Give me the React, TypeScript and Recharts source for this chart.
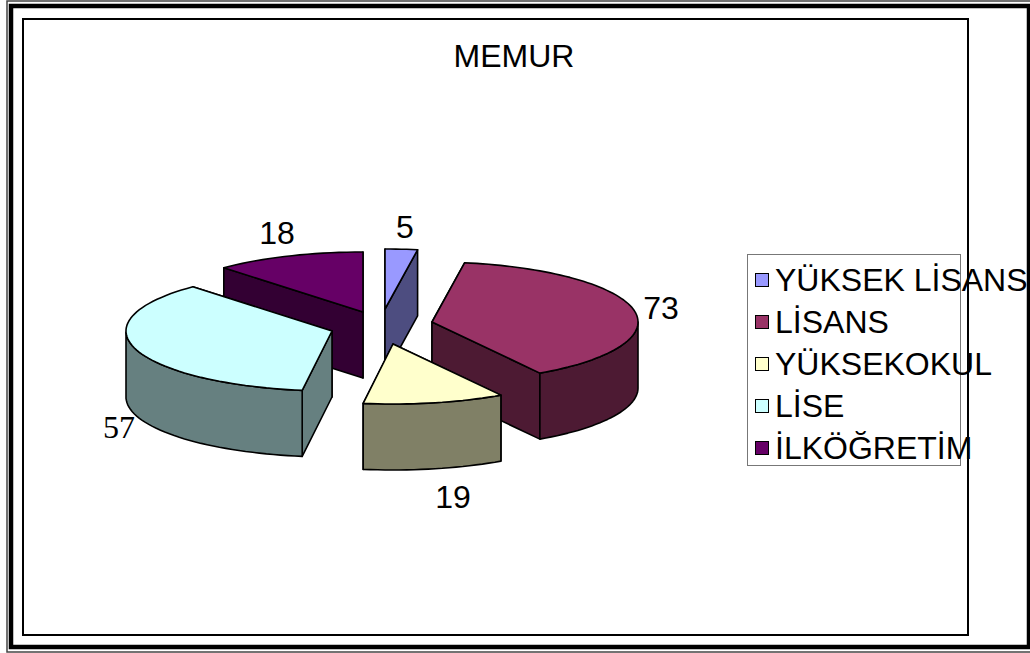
import { Legend, Pie, PieChart } from "recharts";

const categories = ["YÜKSEK LİSANS", "LİSANS", "YÜKSEKOKUL", "LİSE", "İLKÖĞRETİM"];
const values = [5, 73, 19, 57, 18];

const topColors = ["#9999FF", "#993366", "#FFFFCC", "#CCFFFF", "#660066"];
const sideColors = ["#4D4D80", "#4D1A33", "#808066", "#668080", "#330033"];

// explode offset of each slice from the pie centre, back-to-front paint order
const explode = [
  [0, -16],
  [47, -3],
  [8, 19],
  [-53, 6],
  [-22, -13],
];
const drawOrder = [4, 0, 3, 1, 2];

const labelPos = [
  [405, 238],
  [661, 319],
  [453, 508],
  [119, 438],
  [277, 244],
];
const labelFonts = ["Liberation Sans", "Liberation Sans", "Liberation Sans", "Liberation Serif", "Liberation Sans"];

const data = categories.map((name, i) => ({ name, value: values[i] }));

const SQUASH = 60 / 206;
const DEPTH = 66;
const TEXT_FONT = "'Liberation Sans', Arial, sans-serif";

// clockwise degrees from 12 o'clock -> tilted plane, front of the pie pulled round a bit
function project(theta: number, r: number, cx: number, cy: number) {
  const warped = theta - 15 * Math.abs(Math.sin((theta * Math.PI) / 360));
  const a = (warped * Math.PI) / 180;
  return [cx + r * Math.sin(a), cy - r * SQUASH * Math.cos(a)];
}

const toPath = (pts: number[][]) =>
  pts.map((p, i) => `${i ? "L" : "M"}${p[0].toFixed(1)},${p[1].toFixed(1)}`).join("") + "Z";

const drop = (pts: number[][]) => pts.map((p) => [p[0], p[1] + DEPTH]).reverse();

function sliceShape(layer: number) {
  return function SliceShape(props: any) {
    const idx = categories.indexOf(props.name);
    if (idx !== layer) return <g />;

    const cx = props.cx + explode[idx][0];
    const cy = props.cy + explode[idx][1];
    const r = props.outerRadius;
    const from = 90 - props.startAngle;
    const to = 90 - props.endAngle;

    const steps = Math.max(2, Math.ceil((to - from) / 2));
    const thetas: number[] = [];
    for (let s = 0; s <= steps; s++) thetas.push(from + ((to - from) * s) / steps);
    const rim = thetas.map((t) => project(t, r, cx, cy));
    const apex = [cx, cy];

    // outer wall only where the rim faces the viewer
    const frontRim = rim.filter((p) => p[1] >= cy);
    const walls: number[][][] = [
      [apex, rim[0], ...drop([apex, rim[0]])],
      [apex, rim[rim.length - 1], ...drop([apex, rim[rim.length - 1]])],
    ];
    if (frontRim.length > 1) walls.push([...frontRim, ...drop(frontRim)]);
    const meanY = (w: number[][]) => w.reduce((s, p) => s + p[1], 0) / w.length;
    walls.sort((a, b) => meanY(a) - meanY(b));

    return (
      <g stroke="#000" strokeWidth={1.6} strokeLinejoin="round">
        {walls.map((w, i) => (
          <path key={i} d={toPath(w)} fill={sideColors[idx]} />
        ))}
        <path d={toPath([apex, ...rim])} fill={topColors[idx]} />
        <text
          x={labelPos[idx][0]}
          y={labelPos[idx][1]}
          textAnchor="middle"
          stroke="none"
          fill="#000"
          fontSize={32}
          fontFamily={labelFonts[idx]}
        >
          {props.value}
        </text>
      </g>
    );
  };
}

function LegendBox() {
  return (
    <div
      style={{
        position: "absolute",
        left: 747,
        top: 254,
        width: 212,
        height: 210,
        border: "1.5px solid #777",
        boxSizing: "content-box",
        fontFamily: TEXT_FONT,
        fontSize: 32,
        color: "#000",
      }}
    >
      {categories.map((name, i) => (
        <div
          key={name}
          style={{
            position: "absolute",
            left: 7,
            top: 4 + i * 42,
            height: 42,
            display: "flex",
            alignItems: "center",
            whiteSpace: "nowrap",
          }}
        >
          <span
            style={{
              display: "inline-block",
              width: 12,
              height: 12,
              marginRight: 6,
              background: topColors[i],
              border: "1.5px solid #000",
            }}
          />
          {name}
        </div>
      ))}
    </div>
  );
}

export default function App() {
  return (
    <div style={{ position: "absolute", left: 0, top: 0, width: 1030, height: 653, background: "#fff", overflow: "hidden" }}>
      <PieChart width={1030} height={653} margin={{ top: 0, right: 0, bottom: 0, left: 0 }}>
        <rect x={7} y={1} width={1040} height={651} fill="none" stroke="#444" strokeWidth={1.5} />
        <rect x={11} y={6} width={1018} height={641} fill="none" stroke="#000" strokeWidth={4.5} />
        <rect x={23} y={19} width={945} height={616} fill="none" stroke="#000" strokeWidth={2} />
        <text x={514} y={67} textAnchor="middle" fontSize={32} fontFamily={TEXT_FONT} fill="#000">
          MEMUR
        </text>
        {drawOrder.map((layer) => (
          <Pie
            key={layer}
            data={data}
            dataKey="value"
            nameKey="name"
            cx={385}
            cy={325}
            outerRadius={206}
            startAngle={90}
            endAngle={-270}
            stroke="none"
            legendType="none"
            isAnimationActive={false}
            shape={sliceShape(layer)}
            activeShape={sliceShape(layer)}
            inactiveShape={sliceShape(layer)}
          />
        ))}
        <Legend content={<LegendBox />} wrapperStyle={{ position: "absolute", left: 0, top: 0, width: 0, height: 0 }} />
      </PieChart>
    </div>
  );
}
